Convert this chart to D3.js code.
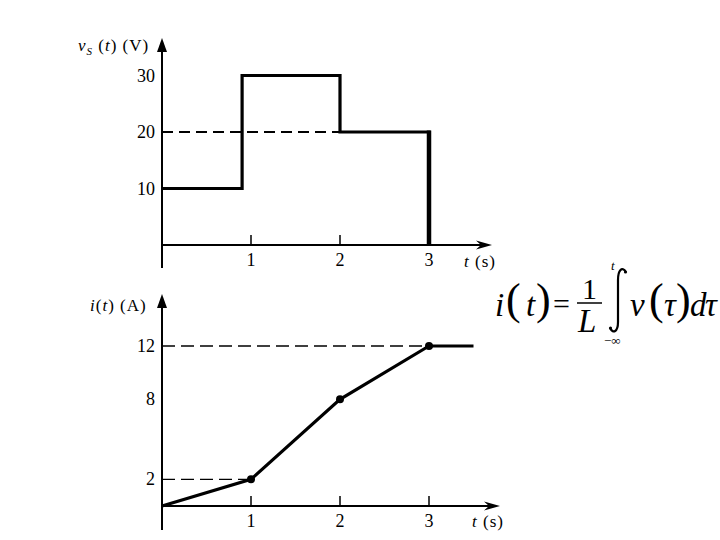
<!DOCTYPE html>
<html>
<head>
<meta charset="utf-8">
<script src="https://cdn.jsdelivr.net/npm/d3@7"></script>
<style>
  body { margin: 0; background: #fff; }
  svg { display: block; font-family: "Liberation Serif", "DejaVu Serif", serif; }
  .tick-label { font-size: 18px; }
  .axis-label { font-size: 17px; letter-spacing: 1px; }
</style>
</head>
<body>
<div id="chart"></div>
<script>
// data
var tickTimes = [1, 2, 3];
var tickTimeLabels = ["1", "2", "3"];
var vTicks = [10, 20, 30];
var iTicks = [2, 8, 12];

// source voltage (steps, value held until next time)
var vTimes = [0, 0.9, 2, 3, 3];
var vValues = [10, 30, 20, 20, 0];
var vDashLevel = 20, vDashEnd = 2;

// inductor current
var iTimes = [0, 1, 2, 3, 3.5];
var iValues = [0, 2, 8, 12, 12];
var iDots = [1, 2, 3];
var iDashLevels = [12, 2];

var width = 720, height = 540;
var svg = d3.select('#chart').append('svg')
  .attr('width', width).attr('height', height);

var x = d3.scaleLinear().domain([0, 3]).range([162, 429]);
var yV = d3.scaleLinear().domain([0, 30]).range([245, 75.5]);
var yI = d3.scaleLinear().domain([0, 12]).range([506, 346]);

function arrowUp(xp, yp) {
  svg.append('path')
    .attr('d', 'M' + xp + ',' + yp + ' L' + (xp - 5) + ',' + (yp + 14) + ' L' + (xp + 5) + ',' + (yp + 14) + 'Z')
    .attr('fill', '#000');
}
function arrowRight(xp, yp) {
  svg.append('path')
    .attr('d', 'M' + xp + ',' + yp + ' L' + (xp - 16) + ',' + (yp - 4.5) + ' L' + (xp - 11) + ',' + yp + ' L' + (xp - 16) + ',' + (yp + 4.5) + 'Z')
    .attr('fill', '#000');
}

function drawPanel(y, ticksY, yTop, yBottom, xEnd, axisLabelY, tickLen) {
  var x0 = x(0), y0 = y(0);
  // axes
  svg.append('line').attr('x1', x0).attr('x2', x0).attr('y1', yTop + 8).attr('y2', yBottom)
    .attr('stroke', '#000').attr('stroke-width', 2);
  arrowUp(x0, yTop);
  svg.append('line').attr('x1', x0).attr('x2', xEnd - 8).attr('y1', y0).attr('y2', y0)
    .attr('stroke', '#000').attr('stroke-width', 2);
  arrowRight(xEnd, y0);
  // x ticks
  svg.selectAll(null).data(tickTimes).enter().append('line')
    .attr('x1', function(d) { return x(d); }).attr('x2', function(d) { return x(d); })
    .attr('y1', y0).attr('y2', y0 - tickLen)
    .attr('stroke', '#000').attr('stroke-width', 1.5);
  svg.selectAll(null).data(tickTimes).enter().append('text')
    .attr('class', 'tick-label')
    .attr('x', function(d) { return x(d); }).attr('y', y0 + 21)
    .attr('text-anchor', 'middle')
    .text(function(d, i) { return tickTimeLabels[i]; });
  // y tick labels
  svg.selectAll(null).data(ticksY).enter().append('text')
    .attr('class', 'tick-label')
    .attr('x', x0 - 7).attr('y', function(d) { return y(d) + 6; })
    .attr('text-anchor', 'end')
    .text(function(d) { return d; });
  // t (s)
  var t = svg.append('text').attr('class', 'axis-label')
    .attr('x', xEnd - 28).attr('y', axisLabelY);
  t.append('tspan').attr('font-style', 'italic').text('t');
  t.append('tspan').text(' (s)');
}

// ---- top panel: v_S(t)
drawPanel(yV, vTicks, 38, 268, 492, 267, 10);

svg.append('line')
  .attr('x1', x(0)).attr('x2', x(vDashEnd))
  .attr('y1', yV(vDashLevel)).attr('y2', yV(vDashLevel))
  .attr('stroke', '#000').attr('stroke-width', 2).attr('stroke-dasharray', '11,6');

var vData = vTimes.map(function(d, i) { return [d, vValues[i]]; });
var stepLine = d3.line()
  .x(function(d) { return x(d[0]); })
  .y(function(d) { return yV(d[1]); })
  .curve(d3.curveStepAfter);
svg.append('path')
  .attr('d', stepLine(vData))
  .attr('fill', 'none').attr('stroke', '#000').attr('stroke-width', 3.2);
// final drop to zero is drawn heavier
var a = vData[vData.length - 2], b = vData[vData.length - 1];
svg.append('line')
  .attr('x1', x(a[0])).attr('x2', x(b[0]))
  .attr('y1', yV(a[1]) - 1.5).attr('y2', yV(b[1]))
  .attr('stroke', '#000').attr('stroke-width', 4.5);

var vl = svg.append('text').attr('class', 'axis-label').attr('x', 78).attr('y', 51);
vl.append('tspan').attr('font-style', 'italic').text('v');
vl.append('tspan').attr('font-style', 'italic').attr('font-size', '11px').attr('dy', 4).text('S');
vl.append('tspan').attr('dy', -4).text(' (');
vl.append('tspan').attr('font-style', 'italic').text('t');
vl.append('tspan').text(') (V)');

// ---- bottom panel: i(t)
drawPanel(yI, iTicks, 294, 530, 500, 527, 10);

svg.selectAll(null).data(iDashLevels).enter().append('line')
  .attr('x1', x(0))
  .attr('x2', function(d) { return x(iTimes[iValues.indexOf(d)]); })
  .attr('y1', function(d) { return yI(d); }).attr('y2', function(d) { return yI(d); })
  .attr('stroke', '#000').attr('stroke-width', 1.3).attr('stroke-dasharray', '13,6');

var iData = iTimes.map(function(d, i) { return [d, iValues[i]]; });
var line = d3.line()
  .x(function(d) { return x(d[0]); })
  .y(function(d) { return yI(d[1]); });
svg.append('path')
  .attr('d', line(iData))
  .attr('fill', 'none').attr('stroke', '#000').attr('stroke-width', 3.2);
svg.selectAll(null).data(iData.filter(function(d) { return iDots.indexOf(d[0]) >= 0; }))
  .enter().append('circle')
  .attr('cx', function(d) { return x(d[0]); })
  .attr('cy', function(d) { return yI(d[1]); })
  .attr('r', 4).attr('fill', '#000');

var il = svg.append('text').attr('class', 'axis-label').attr('x', 90).attr('y', 311);
il.append('tspan').attr('font-style', 'italic').text('i');
il.append('tspan').text('(');
il.append('tspan').attr('font-style', 'italic').text('t');
il.append('tspan').text(') (A)');

// ---- formula
var f = svg.append('g');
function ft(txt, xp, yp, size, style) {
  f.append('text').attr('x', xp).attr('y', yp)
    .attr('font-size', size).attr('font-style', style || 'italic').text(txt);
}
ft('i', 495, 316, 33);
ft('(', 506, 314, 44, 'normal');
ft('t', 526, 316, 33);
ft(')', 536, 314, 44, 'normal');
ft('=', 553, 314, 30, 'normal');
ft('1', 582, 299, 30, 'normal');
f.append('line').attr('x1', 577).attr('x2', 602).attr('y1', 303).attr('y2', 303)
  .attr('stroke', '#000').attr('stroke-width', 1.5);
ft('L', 578, 332, 33);
// integral sign
f.append('path')
  .attr('d', 'M626,272 C622,266 618,270 618,280 L618,322 C618,332 613,334 610,328')
  .attr('fill', 'none').attr('stroke', '#000').attr('stroke-width', 2.2);
f.append('circle').attr('cx', 625.5).attr('cy', 272).attr('r', 1.6);
f.append('circle').attr('cx', 610.5).attr('cy', 328).attr('r', 1.6);
ft('t', 611, 270, 13);
ft('\u2212\u221E', 604, 345, 13, 'normal');
ft('v', 630, 316, 33);
ft('(', 649, 314, 44, 'normal');
ft('\u03C4', 664, 316, 33);
ft(')', 676, 314, 44, 'normal');
ft('d', 690, 316, 33);
ft('\u03C4', 705, 316, 33);
</script>
</body>
</html>
